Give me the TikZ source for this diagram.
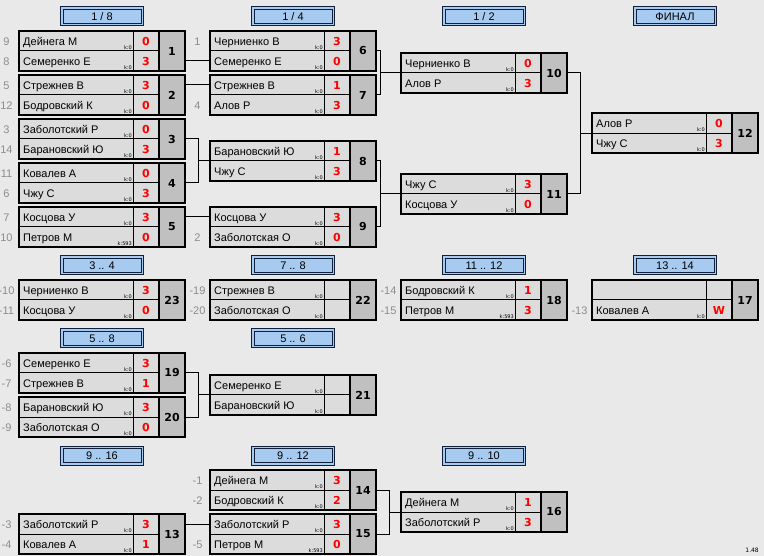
\documentclass[tikz,border=0pt]{standalone}
\usepackage{fontspec}
\setmainfont{Liberation Sans}
\newfontfamily\numfont{DejaVu Sans}
\usetikzlibrary{calc}
\definecolor{bgc}{HTML}{E9E9E9}
\definecolor{cellc}{HTML}{DCDCDC}
\definecolor{numc}{HTML}{C0C0C0}
\definecolor{hdrc}{HTML}{A6CAF0}
\definecolor{hdrline}{HTML}{10203A}
\definecolor{seedc}{HTML}{8C8C8C}
\tikzset{
 outerbox/.style={draw=black, line width=2pt, fill=cellc, minimum width=140pt, minimum height=40pt, inner sep=0pt, outer sep=0pt},
 numbox/.style={draw=black, line width=2pt, fill=numc, minimum width=26pt, minimum height=40pt, inner sep=0pt, outer sep=0pt, font=\numfont\bfseries\fontsize{11}{12}\selectfont},
 pname/.style={font=\fontsize{11}{12}\selectfont, inner sep=0pt},
 klab/.style={font=\numfont\fontsize{5}{5}\selectfont, inner sep=0pt},
 scoretxt/.style={font=\numfont\bfseries\fontsize{11}{12}\selectfont, text=red, inner sep=0pt},
 seedtxt/.style={font=\fontsize{11}{12}\selectfont, text=seedc, inner sep=0pt},
 hdr/.style={draw=hdrline, line width=1pt, fill=hdrc, minimum width=83pt, minimum height=19pt, inner sep=0pt, outer sep=0pt, font=\fontsize{11}{12}\selectfont},
 conn/.style={draw=black, line width=1pt},
 divl/.style={draw=black, line width=1pt},
}
\newcommand\thdr[4]{%
 \node[hdr, anchor=north] (#1) at (#2,#3) {#4};
 \draw[hdrline, line width=1pt] ($(#1.north west)+(2.5,2.5)$) rectangle ($(#1.south east)+(-2.5,-2.5)$);
}
\newcommand\tmatch[4]{%
 \node[outerbox, anchor=north west] (#1) at (#2,#3) {};
 \node[numbox, anchor=north west] (#1n) at (#2+140,#3) {#4};
 \draw[divl] (#1.west) -- (#1.east);
 \draw[divl] ($(#1.north west)+(114,0)$) -- ($(#1.south west)+(114,0)$);
 \coordinate (#1a) at ($(#1.north west)+(0,10)$);
 \coordinate (#1b) at ($(#1.north west)+(0,30)$);
}
\newcommand\tplayer[5]{%
 \node[pname, anchor=base west] (#1#2p) at ($(#1#2)+(4,4.5)$) {#3};
 \node[klab, anchor=south east] (#1#2k) at ($(#1#2)+(113,8.5)$) {#4};
 \node[scoretxt, anchor=base] (#1#2s) at ($(#1#2)+(127,4.5)$) {#5};
}
\newcommand\tseed[2]{%
 \node[seedtxt, anchor=base] (#1seed) at ($(#1)+(-12.5,4.5)$) {#2};
}
\begin{document}
\begin{tikzpicture}[x=1pt,y=-1pt]
\fill[bgc] (0,0) rectangle (764,556);
\useasboundingbox (0,0) rectangle (764,556);

% headers
\thdr{h18}{102}{7}{1 / 8}
\thdr{h14}{293}{7}{1 / 4}
\thdr{h12}{484}{7}{1 / 2}
\thdr{hfin}{675}{7}{ФИНАЛ}
\thdr{h34}{102}{256}{3 .. 4}
\thdr{h78}{293}{256}{7 .. 8}
\thdr{h1112}{484}{256}{11 .. 12}
\thdr{h1314}{675}{256}{13 .. 14}
\thdr{h58}{102}{329}{5 .. 8}
\thdr{h56}{293}{329}{5 .. 6}
\thdr{h916}{102}{446}{9 .. 16}
\thdr{h912}{293}{446}{9 .. 12}
\thdr{h910}{484}{446}{9 .. 10}

% column 1
\tmatch{m1}{19}{31}{1}
\tplayer{m1}{a}{Дейнега М}{k:0}{0}\tseed{m1a}{9}
\tplayer{m1}{b}{Семеренко Е}{k:0}{3}\tseed{m1b}{8}
\tmatch{m2}{19}{75}{2}
\tplayer{m2}{a}{Стрежнев В}{k:0}{3}\tseed{m2a}{5}
\tplayer{m2}{b}{Бодровский К}{k:0}{0}\tseed{m2b}{12}
\tmatch{m3}{19}{119}{3}
\tplayer{m3}{a}{Заболотский Р}{k:0}{0}\tseed{m3a}{3}
\tplayer{m3}{b}{Барановский Ю}{k:0}{3}\tseed{m3b}{14}
\tmatch{m4}{19}{163}{4}
\tplayer{m4}{a}{Ковалев А}{k:0}{0}\tseed{m4a}{11}
\tplayer{m4}{b}{Чжу С}{k:0}{3}\tseed{m4b}{6}
\tmatch{m5}{19}{207}{5}
\tplayer{m5}{a}{Косцова У}{k:0}{3}\tseed{m5a}{7}
\tplayer{m5}{b}{Петров М}{k:593}{0}\tseed{m5b}{10}

% column 2
\tmatch{m6}{210}{31}{6}
\tplayer{m6}{a}{Черниенко В}{k:0}{3}\tseed{m6a}{1}
\tplayer{m6}{b}{Семеренко Е}{k:0}{0}
\tmatch{m7}{210}{75}{7}
\tplayer{m7}{a}{Стрежнев В}{k:0}{1}
\tplayer{m7}{b}{Алов Р}{k:0}{3}\tseed{m7b}{4}
\tmatch{m8}{210}{141}{8}
\tplayer{m8}{a}{Барановский Ю}{k:0}{1}
\tplayer{m8}{b}{Чжу С}{k:0}{3}
\tmatch{m9}{210}{207}{9}
\tplayer{m9}{a}{Косцова У}{k:0}{3}
\tplayer{m9}{b}{Заболотская О}{k:0}{0}\tseed{m9b}{2}

% column 3
\tmatch{m10}{401}{53}{10}
\tplayer{m10}{a}{Черниенко В}{k:0}{0}
\tplayer{m10}{b}{Алов Р}{k:0}{3}
\tmatch{m11}{401}{174}{11}
\tplayer{m11}{a}{Чжу С}{k:0}{3}
\tplayer{m11}{b}{Косцова У}{k:0}{0}

% column 4
\tmatch{m12}{592}{113.5}{12}
\tplayer{m12}{a}{Алов Р}{k:0}{0}
\tplayer{m12}{b}{Чжу С}{k:0}{3}

% places 3-4, 7-8, 11-12, 13-14
\tmatch{m23}{19}{280}{23}
\tplayer{m23}{a}{Черниенко В}{k:0}{3}\tseed{m23a}{-10}
\tplayer{m23}{b}{Косцова У}{k:0}{0}\tseed{m23b}{-11}
\tmatch{m22}{210}{280}{22}
\tplayer{m22}{a}{Стрежнев В}{k:0}{}\tseed{m22a}{-19}
\tplayer{m22}{b}{Заболотская О}{k:0}{}\tseed{m22b}{-20}
\tmatch{m18}{401}{280}{18}
\tplayer{m18}{a}{Бодровский К}{k:0}{1}\tseed{m18a}{-14}
\tplayer{m18}{b}{Петров М}{k:593}{3}\tseed{m18b}{-15}
\tmatch{m17}{592}{280}{17}
\tplayer{m17}{b}{Ковалев А}{k:0}{W}\tseed{m17b}{-13}

% places 5-8
\tmatch{m19}{19}{353}{19}
\tplayer{m19}{a}{Семеренко Е}{k:0}{3}\tseed{m19a}{-6}
\tplayer{m19}{b}{Стрежнев В}{k:0}{1}\tseed{m19b}{-7}
\tmatch{m20}{19}{397}{20}
\tplayer{m20}{a}{Барановский Ю}{k:0}{3}\tseed{m20a}{-8}
\tplayer{m20}{b}{Заболотская О}{k:0}{0}\tseed{m20b}{-9}
\tmatch{m21}{210}{375}{21}
\tplayer{m21}{a}{Семеренко Е}{k:0}{}
\tplayer{m21}{b}{Барановский Ю}{k:0}{}

% places 9-16
\tmatch{m13}{19}{514}{13}
\tplayer{m13}{a}{Заболотский Р}{k:0}{3}\tseed{m13a}{-3}
\tplayer{m13}{b}{Ковалев А}{k:0}{1}\tseed{m13b}{-4}
\tmatch{m14}{210}{470}{14}
\tplayer{m14}{a}{Дейнега М}{k:0}{3}\tseed{m14a}{-1}
\tplayer{m14}{b}{Бодровский К}{k:0}{2}\tseed{m14b}{-2}
\tmatch{m15}{210}{514}{15}
\tplayer{m15}{a}{Заболотский Р}{k:0}{3}
\tplayer{m15}{b}{Петров М}{k:593}{0}\tseed{m15b}{-5}
\tmatch{m16}{401}{492}{16}
\tplayer{m16}{a}{Дейнега М}{k:0}{1}
\tplayer{m16}{b}{Заболотский Р}{k:0}{3}

% connectors
\draw[conn] (m1b -| m1n.east) -- (m6b);
\draw[conn] (m2a -| m2n.east) -- (m7a);
\draw[conn] (m3n.east) -- ++(13,0) coordinate (j34) |- (m4n.east);
\draw[conn] (m8.west) -- (m8.west -| j34);
\draw[conn] (m5a -| m5n.east) -- (m9a);
\draw[conn] (m6n.east) -- ++(4,0) coordinate (j67) |- (m7n.east);
\draw[conn] (m10.west) -- (m10.west -| j67);
\draw[conn] (m8n.east) -- ++(4,0) coordinate (j89) |- (m9n.east);
\draw[conn] (m11.west) -- (m11.west -| j89);
\draw[conn] (m10n.east) -- ++(13,0) coordinate (j1011) |- (m11n.east);
\draw[conn] (m12.west) -- (m12.west -| j1011);
\draw[conn] (m19n.east) -- ++(13,0) coordinate (j1920) |- (m20n.east);
\draw[conn] (m21.west) -- (m21.west -| j1920);
\draw[conn] (m13a -| m13n.east) -- (m15a);
\draw[conn] (m14n.east) -- ++(13,0) coordinate (j1415) |- (m15n.east);
\draw[conn] (m16.west) -- (m16.west -| j1415);

\node[klab, font=\numfont\fontsize{6}{6}\selectfont, anchor=south east] (ver) at (759,553) {1.48};
\end{tikzpicture}
\end{document}
